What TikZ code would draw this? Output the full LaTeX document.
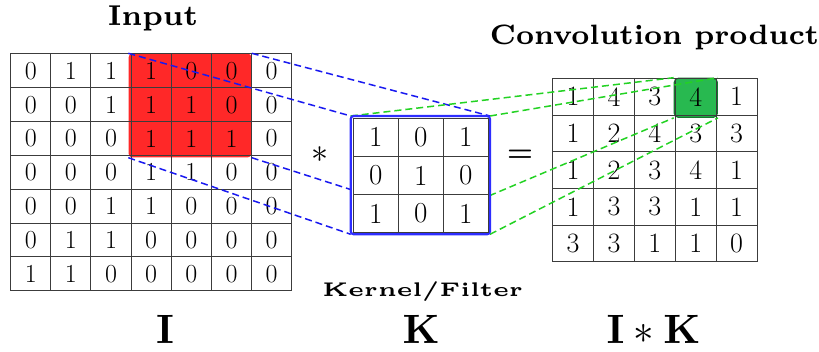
\documentclass[tikz,border=0pt]{standalone}
\usepackage{graphicx}
\usepackage{amsmath}
\usetikzlibrary{calc}
\definecolor{gridc}{RGB}{60,60,60}
\definecolor{redc}{RGB}{255,40,40}
\definecolor{greenc}{RGB}{40,185,80}
\definecolor{greendk}{RGB}{20,120,45}
\definecolor{dashblue}{RGB}{25,25,240}
\definecolor{dashgreen}{RGB}{35,210,35}
\definecolor{kblue}{RGB}{45,45,255}
\begin{document}
\begin{tikzpicture}[x=1pt,y=-1pt,
  incell/.style={draw=gridc,line width=1pt,minimum width=40.14pt,minimum height=33.81pt,inner sep=0pt,font=\fontsize{26}{30}\selectfont},
  kcell/.style={draw=gridc,line width=1pt,minimum width=45pt,minimum height=38.13pt,inner sep=0pt,font=\fontsize{29}{34}\selectfont},
  ocell/.style={draw=gridc,line width=1pt,minimum width=40.86pt,minimum height=36.74pt,inner sep=0pt,font=\fontsize{28}{33}\selectfont},
  bluedash/.style={draw=dashblue,line width=1.5pt,dash pattern=on 7pt off 4pt},
  greendash/.style={draw=dashgreen,line width=1.5pt,dash pattern=on 7pt off 4pt},
  titlelbl/.style={inner sep=0pt,anchor=base},
  biglbl/.style={inner sep=0pt,anchor=base}]
\useasboundingbox (0,0) rectangle (819,352);

% titles
\node[titlelbl] (tin) at (153,26) {\scalebox{4.1}{\fontsize{7}{8}\selectfont\bfseries Input}};
\node[titlelbl] (tconv) at (654.5,45) {\scalebox{4.0}{\fontsize{7}{8}\selectfont\bfseries Convolution product}};
\node[titlelbl] (tkern) at (422.7,296.7) {\scalebox{4.5}[3.95]{\fontsize{5}{6}\selectfont\bfseries Kernel/Filter}};

% highlight on input
\node[fill=redc,rounded corners=4pt,minimum width=123pt,minimum height=104pt,inner sep=0pt] (hl) at (190,105.5) {};

% input grid
\foreach \row [count=\r from 0] in {{0,1,1,1,0,0,0},{0,0,1,1,1,0,0},{0,0,0,1,1,1,0},{0,0,0,1,1,0,0},{0,0,1,1,0,0,0},{0,1,1,0,0,0,0},{1,1,0,0,0,0,0}} {
  \foreach \v [count=\c from 0] in \row {
    \node[incell] (in-\r-\c) at ({10.7+40.14*(\c+0.5)},{54+33.81*(\r+0.5)}) {\v};
  }
}

% output highlight
\node[fill=greenc,draw=greendk,line width=1.2pt,rounded corners=4pt,minimum width=43pt,minimum height=39pt,inner sep=0pt] (gc) at (695.8,97.8) {};

% output grid
\foreach \row [count=\r from 0] in {{1,4,3,4,1},{1,2,4,3,3},{1,2,3,4,1},{1,3,3,1,1},{3,3,1,1,0}} {
  \foreach \v [count=\c from 0] in \row {
    \node[ocell] (out-\r-\c) at ({552.7+40.86*(\c+0.5)},{78.3+36.74*(\r+0.5)}) {\v};
  }
}

% kernel frame (placed, drawn later)
\node[minimum width=139.3pt,minimum height=118.3pt,inner sep=0pt,outer sep=0pt] (kb) at (420.35,175.15) {};
\coordinate (kbl) at ($(kb.south west)!0.34!(kb.south east)$);

% dashed connectors
\draw[bluedash] (hl.north west) -- (kb.north west);
\draw[bluedash] (hl.north east) -- (kb.north east);
\draw[bluedash] (hl.south west) -- (kb.south west);
\draw[bluedash] (hl.south east) -- (kb.south east);
\draw[greendash] (kb.north west) -- (gc.north west);
\draw[greendash] (kb.north east) -- (gc.north east);
\draw[greendash] (kbl) -- (gc.south west);
\draw[greendash] (kb.south east) -- (gc.south east);

% kernel
\fill[white,draw=kblue,line width=2.2pt,rounded corners=3pt] (kb.north west) rectangle (kb.south east);
\foreach \row [count=\r from 0] in {{1,0,1},{0,1,0},{1,0,1}} {
  \foreach \v [count=\c from 0] in \row {
    \node[kcell] (k-\r-\c) at ({353.3+45*(\c+0.5)},{118.3+38.13*(\r+0.5)}) {\v};
  }
}

% operators
\node[inner sep=0pt] (star) at (319.7,154.3) {\scalebox{3.4}{$\ast$}};
\node[inner sep=0pt] (eq) at (520,156) {\scalebox{2.9}{\boldmath$=$}};

% big labels
\node[biglbl] (lI) at (165,344) {\scalebox{4.1}{$\mathbf{I}$}};
\node[biglbl] (lK) at (421,344) {\scalebox{4.1}{$\mathbf{K}$}};
\node[biglbl] (lIK) at (653.5,344) {\scalebox{4.1}{$\mathbf{I}\ast\mathbf{K}$}};
\end{tikzpicture}
\end{document}
